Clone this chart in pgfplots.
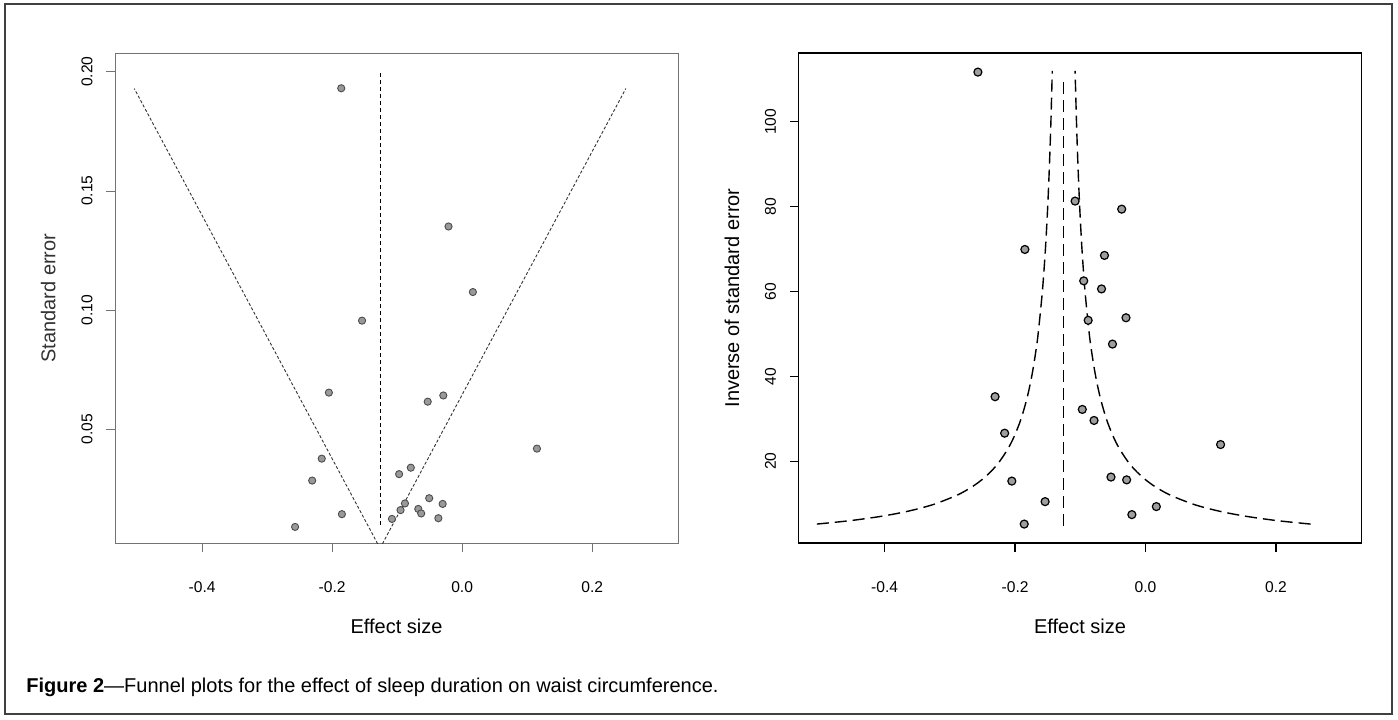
\documentclass[border=0pt]{standalone}
\usepackage{fontspec}
\setmainfont{Liberation Sans}
\usepackage{pgfplots}
\pgfplotsset{compat=1.18}

% study estimates: effect size, standard error, 1/SE
\pgfplotstableread{
es      se       inv
-0.186  0.1930   5.18
-0.021  0.1350   7.41
0.0165  0.1075   9.30
-0.154  0.0955   10.47
-0.205  0.0653   15.31
-0.053  0.0615   16.26
-0.029  0.0641   15.60
0.115   0.0418   23.92
-0.216  0.0376   26.60
-0.079  0.0338   29.60
-0.097  0.0311   32.20
-0.2307 0.0284   35.20
-0.0507 0.0210   47.60
-0.030  0.0186   53.80
-0.088  0.0188   53.20
-0.0948 0.0160   62.50
-0.0675 0.0165   60.60
-0.063  0.0146   68.50
-0.185  0.0143   69.90
-0.108  0.0123   81.30
-0.0366 0.0126   79.40
-0.257  0.00895  111.70
}\studies

\pgfplotsset{
  funnel/.style={
    scale only axis, width=281.5pt, height=245pt,
    anchor=south west,
    tick align=outside, major tick length=4.3pt,
    xtick pos=bottom, ytick pos=left,
    xtick={-0.4,-0.2,0,0.2},
    xticklabels={\mbox{-0.4},\mbox{-0.2},\mbox{0.0},\mbox{0.2}},
    ticklabel style={font=\fontsize{7.8}{9.4}\selectfont},
    xticklabel style={anchor=north, inner sep=0pt, yshift=-15pt},
    yticklabel style={xshift=-7pt, rotate=90, anchor=base, inner sep=0pt},
    label style={font=\fontsize{7.8}{9.4}\selectfont},
    every axis x label/.style={at={(axis description cs:0.5,0)}, yshift=-45pt, anchor=base},
    every axis y label/.style={at={(axis description cs:0,0.5)}, xshift=-29.75pt, rotate=90, anchor=base},
    xlabel={Effect size},
  }
}

\begin{document}
\begin{tikzpicture}
\useasboundingbox (0,0) rectangle (699pt,359.5pt);
\draw[black!75, line width=0.7pt] (2.5pt,2.5pt) rectangle (696pt,357.5pt);

% left: standard error
\begin{axis}[funnel, at={(57.5pt,88pt)},
    xmin=-0.534, xmax=0.332, ymin=0.0022, ymax=0.2078,
    ytick={0.05,0.10,0.15,0.20},
    yticklabels={0.05,0.10,0.15,0.20},
    axis line style={black!55}, tick style={black!55},
    ylabel={Standard error}, ylabel style={text=black!80},
]
\addplot[black!80, line width=0.45pt, dash pattern=on 1.5pt off 1pt] coordinates {(-0.1263,0) (-0.5044,0.1929)};
\addplot[black!80, line width=0.45pt, dash pattern=on 1.5pt off 1pt] coordinates {(-0.1263,0) (0.2518,0.1929)};
\addplot[black, line width=0.5pt, dash pattern=on 2pt off 1.5pt] coordinates {(-0.1263,0.0099) (-0.1263,0.200)};
\addplot[only marks, mark=*, mark size=1.8pt, mark options={fill=black!40, draw=black!70, line width=0.45pt}] table[x=es, y=se] {\studies};
\end{axis}

% right: inverse of standard error
\begin{axis}[funnel, at={(399.25pt,88pt)},
    xmin=-0.532, xmax=0.331, ymin=0.72, ymax=116.2,
    ytick={20,40,60,80,100},
    yticklabels={20,40,60,80,100},
    axis line style={black, line width=0.6pt}, tick style={black, line width=0.6pt},
    ylabel={Inverse of standard error},
]
\addplot[black, line width=0.7pt, dash pattern=on 6pt off 3pt, smooth] coordinates {
 (-0.5039,5.18) (-0.4522,6) (-0.4055,7) (-0.3705,8) (-0.3433,9) (-0.3215,10)
 (-0.2888,12) (-0.2655,14) (-0.2480,16) (-0.2344,18) (-0.2235,20) (-0.2107,23)
 (-0.2009,26) (-0.1908,30) (-0.1815,35) (-0.1745,40) (-0.1691,45) (-0.1647,50)
 (-0.1582,60) (-0.1535,70) (-0.1500,80) (-0.1473,90) (-0.1451,100) (-0.1430,112)};
\addplot[black, line width=0.7pt, dash pattern=on 6pt off 3pt, smooth] coordinates {
 (0.2529,5.18) (0.2012,6) (0.1545,7) (0.1195,8) (0.0923,9) (0.0705,10)
 (0.0378,12) (0.0145,14) (-0.0030,16) (-0.0166,18) (-0.0275,20) (-0.0403,23)
 (-0.0501,26) (-0.0602,30) (-0.0695,35) (-0.0765,40) (-0.0819,45) (-0.0863,50)
 (-0.0928,60) (-0.0975,70) (-0.1010,80) (-0.1037,90) (-0.1059,100) (-0.1080,112)};
\addplot[black, line width=0.7pt, dash pattern=on 6pt off 3pt] coordinates {(-0.1255,4.7) (-0.1255,110.5)};
\addplot[only marks, mark=*, mark size=2pt, mark options={fill=black!38, draw=black, line width=0.6pt}] table[x=es, y=inv] {\studies};
\end{axis}

\node[anchor=base west, inner sep=0pt, font=\fontsize{10}{12}\selectfont] at (13pt,13.5pt)
  {\textbf{Figure 2}—Funnel plots for the effect of sleep duration on waist circumference.};
\end{tikzpicture}
\end{document}
